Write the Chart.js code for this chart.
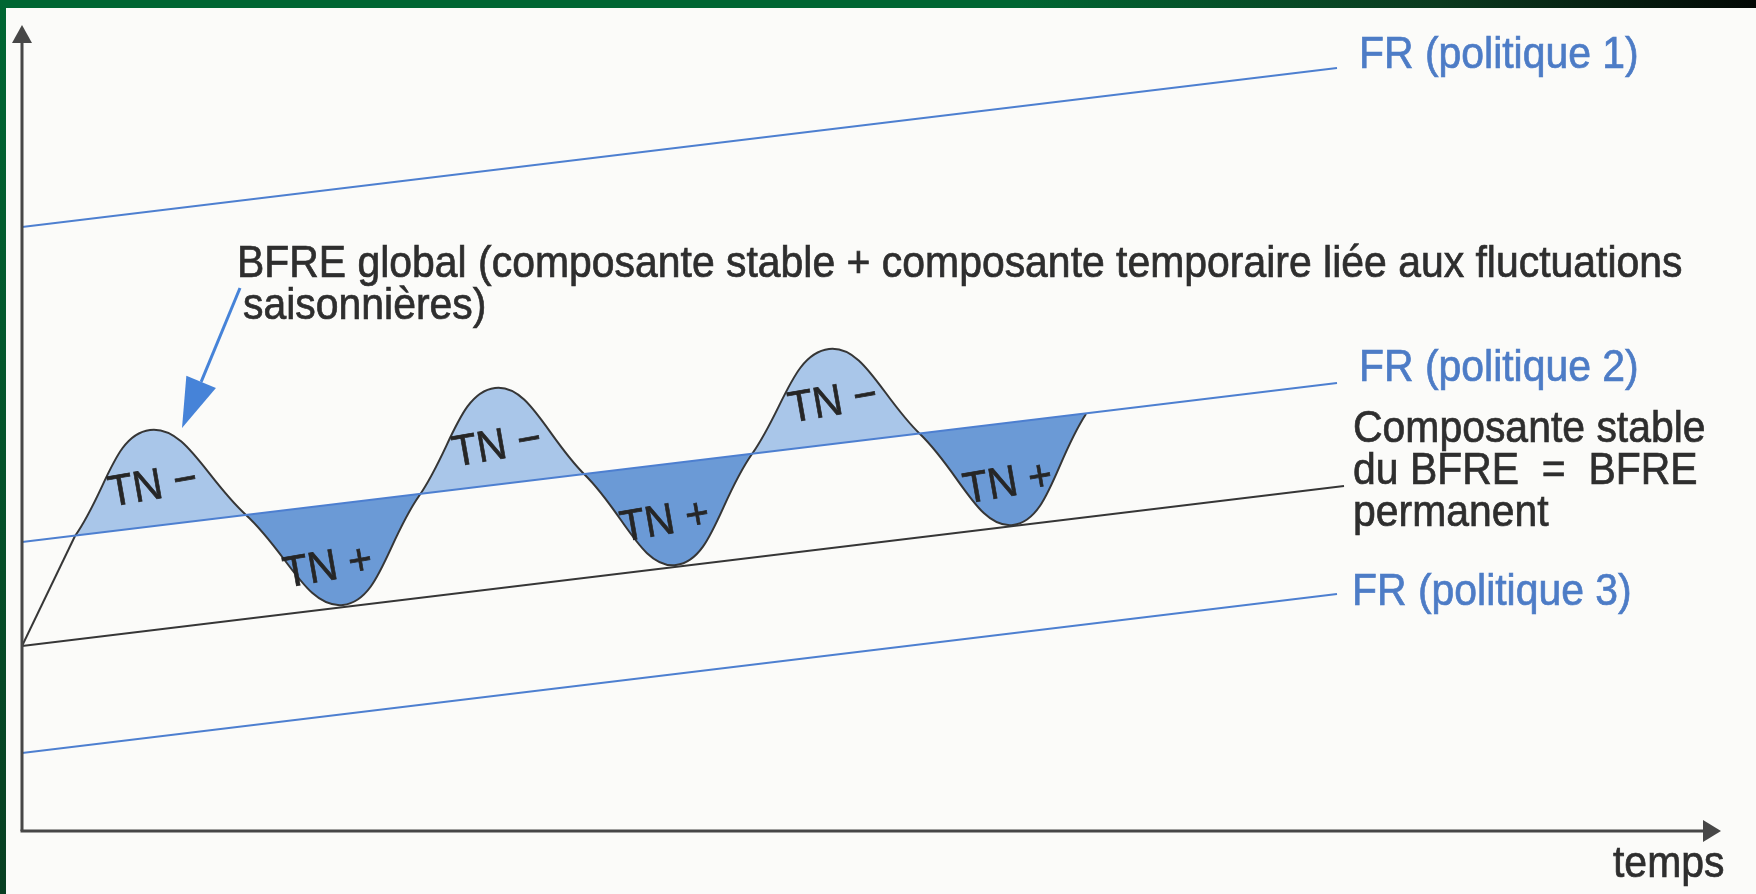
<!DOCTYPE html>
<html><head><meta charset="utf-8">
<script src="https://cdn.jsdelivr.net/npm/chart.js@4.4.1/dist/chart.umd.min.js"></script>
<style>
html,body{margin:0;padding:0;background:#fff;}
#frame{position:relative;width:1756px;height:894px;overflow:hidden;background:#fbfbf9;}
#top{position:absolute;left:0;top:0;width:1756px;height:8px;background:linear-gradient(to right,#006633 0%,#006633 58%,#0b3a1f 82%,#020805 100%);}
#left{position:absolute;left:0;top:0;width:6px;height:894px;background:linear-gradient(to bottom,#006633,#083f22);}
#wrap{position:absolute;left:6px;top:8px;width:1750px;height:886px;}
</style></head>
<body><div id="frame"><div id="top"></div><div id="left"></div><div id="wrap"><canvas id="c" width="1750" height="886"></canvas></div></div>
<script>
// ---- data (time units on x, amount on y) ----
const policyX = [0, 131.5];
const fr1 = [60.4, 76.3];
const fr2 = [28.9, 44.8];
const fr3 = [7.8, 23.7];
const permanentX = [0, 132.2];
const permanent = [18.5, 34.5];
const rampX = [0, 5.3];
const rampY = [18.5, 29.5];
const waveX = [5.3, 12.8, 22.4, 32.1, 39.7, 47.3, 56.3, 65.4, 73.0, 80.7, 89.8, 99.1, 106.4];
const waveY = [29.5, 40.1, 31.6, 22.6, 33.5, 44.3, 35.6, 26.6, 37.7, 48.2, 39.7, 30.6, 41.7];
const lineLabels = ['FR (politique 1)', 'FR (politique 2)', 'Composante stable', 'du BFRE  =  BFRE', 'permanent', 'FR (politique 3)'];
const waveLabel = ['BFRE global (composante stable + composante temporaire liée aux fluctuations', 'saisonnières)'];
const tnLabels = ['TN −', 'TN +', 'TN −', 'TN +', 'TN −', 'TN +'];
const axisLabel = 'temps';

// ---- layout of annotations (data coordinates) ----
const lineLabelPos = [[133.7, 76.3], [133.7, 45.0], [133.1, 38.9], [133.1, 34.7], [133.1, 30.5], [133.0, 22.6]];
const lineLabelColor = ['#4d7cc6', '#4d7cc6', '#2e2e2e', '#2e2e2e', '#2e2e2e', '#4d7cc6'];
const waveLabelPos = [[21.5, 55.4], [22.1, 51.2]];
const tnPos = [[13.1, 34.4], [30.6, 26.3], [47.5, 38.4], [64.3, 30.9], [81.1, 42.8], [98.6, 34.7]];
const pointerTail = [21.8, 54.3], pointerTip = [16.0, 40.3];
const yAxisTop = 80.6, xAxisEnd = 169.9;
const axisLabelPos = [159.1, -4.6];

const pts = (xs, ys) => xs.map((v, i) => ({x: v, y: ys[i]}));
const FONT = '"Liberation Sans", Arial, Helvetica, sans-serif';
const BLUE = '#4d7fd0';

function arrow(ctx, x1, y1, x2, y2, len, half, lw, color) {
  const a = Math.atan2(y2 - y1, x2 - x1);
  const bx = x2 - len * Math.cos(a), by = y2 - len * Math.sin(a);
  ctx.strokeStyle = color; ctx.fillStyle = color; ctx.lineWidth = lw;
  ctx.beginPath(); ctx.moveTo(x1, y1); ctx.lineTo(bx, by); ctx.stroke();
  ctx.beginPath(); ctx.moveTo(x2, y2);
  ctx.lineTo(bx + half * Math.sin(a), by - half * Math.cos(a));
  ctx.lineTo(bx - half * Math.sin(a), by + half * Math.cos(a));
  ctx.closePath(); ctx.fill();
}

function label(ctx, t, x, y) {
  ctx.save();
  ctx.translate(x, y);
  ctx.scale(0.93, 1);
  ctx.strokeStyle = ctx.fillStyle;
  ctx.lineWidth = 0.7;
  ctx.fillText(t, 0, 0);
  ctx.strokeText(t, 0, 0);
  ctx.restore();
}

const decor = {
  id: 'decor',
  afterDatasetsDraw(chart) {
    const {ctx, scales: {x, y}} = chart;
    const px = v => x.getPixelForValue(v), py = v => y.getPixelForValue(v);
    ctx.save();
    ctx.lineCap = 'butt';
    arrow(ctx, px(0), py(0), px(0), py(yAxisTop), 18, 10, 3, '#474747');
    arrow(ctx, px(0) - 1.5, py(0), px(xAxisEnd), py(0), 18, 11, 3, '#474747');
    arrow(ctx, px(pointerTail[0]), py(pointerTail[1]), px(pointerTip[0]), py(pointerTip[1]), 50, 16, 3, '#4683d8');
    ctx.font = '44px ' + FONT;
    ctx.textBaseline = 'alphabetic';
    ctx.textAlign = 'left';
    lineLabels.forEach((t, i) => {
      ctx.fillStyle = lineLabelColor[i];
      label(ctx, t, px(lineLabelPos[i][0]), py(lineLabelPos[i][1]));
    });
    ctx.fillStyle = '#2e2e2e';
    waveLabel.forEach((t, i) => label(ctx, t, px(waveLabelPos[i][0]), py(waveLabelPos[i][1])));
    ctx.fillStyle = '#2e2e2e';
    label(ctx, axisLabel, px(axisLabelPos[0]), py(axisLabelPos[1]));
    ctx.textAlign = 'center'; ctx.textBaseline = 'middle';
    tnLabels.forEach((t, i) => {
      ctx.save();
      ctx.translate(px(tnPos[i][0]), py(tnPos[i][1]));
      ctx.rotate(-10 * Math.PI / 180);
      ctx.fillStyle = '#262626';
      label(ctx, t, 0, 0);
      ctx.restore();
    });
    ctx.restore();
  }
};

const lineDs = (label, data, color, extra) => Object.assign({
  label, data, borderColor: color, borderWidth: 2, pointRadius: 0, tension: 0, fill: false
}, extra || {});

new Chart(document.getElementById('c'), {
  type: 'line',
  data: {
    datasets: [
      lineDs('FR (politique 1)', pts(policyX, fr1), BLUE),
      lineDs('FR (politique 2)', pts(policyX, fr2), BLUE),
      lineDs('FR (politique 3)', pts(policyX, fr3), BLUE),
      lineDs('BFRE permanent', pts(permanentX, permanent), '#363636'),
      lineDs('BFRE global (départ)', pts(rampX, rampY), '#363636'),
      lineDs('BFRE global', pts(waveX, waveY), '#363636', {
        tension: 0.42,
        fill: {target: 1, above: '#a9c6e9', below: '#6b9ad6'}
      })
    ]
  },
  options: {
    responsive: false, animation: false, events: [],
    layout: {padding: {left: 16, right: 34, top: 13, bottom: 63}},
    plugins: {legend: {display: false}, tooltip: {enabled: false}},
    scales: {
      x: {type: 'linear', min: 0, max: 170, display: false},
      y: {type: 'linear', min: 0, max: 81, display: false}
    },
    elements: {point: {radius: 0}}
  },
  plugins: [decor]
});
</script>
</body></html>
